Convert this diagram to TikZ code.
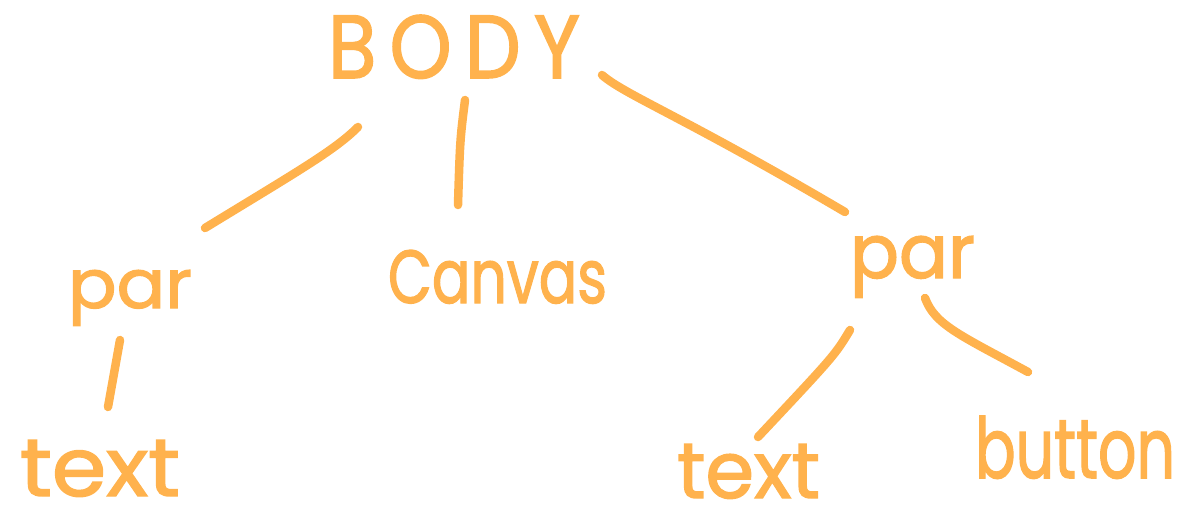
\documentclass[tikz,border=0pt]{standalone}
\usepackage{fontspec}
\usepackage{graphicx}
\setmainfont{Poppins}
\newfontfamily\handfont{Poppins}[FakeBold=1.8]
\definecolor{ink}{HTML}{FFB24D}
\newcommand{\hw}[3]{\resizebox{#1pt}{#2pt}{\handfont #3}}
\tikzset{
  word/.style={inner sep=0pt, outer sep=0pt, text=ink, anchor=base west},
  stroke/.style={draw=ink, line width=8.5pt, line cap=round, line join=round},
}
\begin{document}
\begin{tikzpicture}[x=1pt, y=-1pt]
  \useasboundingbox (0,0) rectangle (1189,524);
  % labels of the tree
  \node[word] (body)    at (328,78)  {\hw{252}{63}{B\,O\,D\,Y}};
  \node[word] (parL)    at (68,308)  {\hw{124}{38}{par}};
  \node[word] (canvas)  at (388,303) {\hw{219}{53}{Canvas}};
  \node[word] (parR)    at (850,278) {\hw{125}{42}{par}};
  \node[word] (textL)   at (20,496)  {\hw{160}{56}{text}};
  \node[word] (textR)   at (677,498) {\hw{143}{54}{text}};
  \node[word] (button)  at (975,478) {\hw{200}{62}{button}};
  % end points of the branches
  \coordinate (b1) at (358,127); \coordinate (l1) at (205,228);
  \coordinate (b2) at (465,100); \coordinate (c2) at (458,205);
  \coordinate (b3) at (602,75);  \coordinate (r3) at (845,212);
  \coordinate (p4) at (120,340); \coordinate (t4) at (108,407);
  \coordinate (p5) at (850,330); \coordinate (t5) at (758,437);
  \coordinate (p6) at (925,298); \coordinate (u6) at (1028,372);
  % branches
  \draw[stroke] (b1) .. controls (335,150) and (300,170) .. (l1);
  \draw[stroke] (b2) .. controls (460,140) .. (c2);
  \draw[stroke] (b3) .. controls (625,95) and (680,115) .. (r3);
  \draw[stroke] (p4) -- (t4);
  \draw[stroke] (p5) .. controls (835,355) .. (t5);
  \draw[stroke] (p6) .. controls (935,325) and (960,335) .. (u6);
\end{tikzpicture}
\end{document}
